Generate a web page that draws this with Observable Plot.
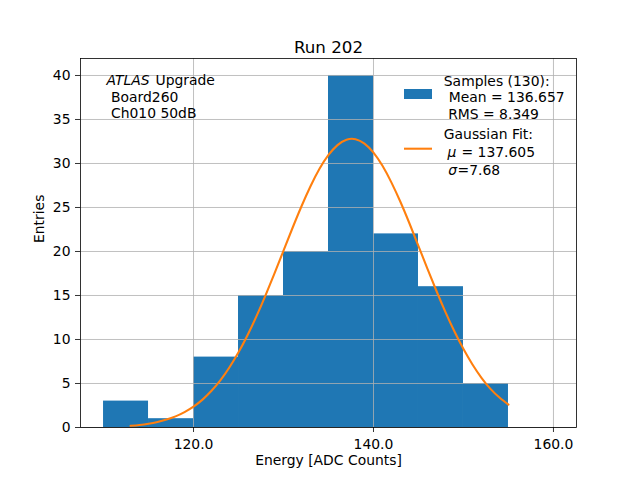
<!DOCTYPE html>
<html>
<head>
<meta charset="utf-8">
<script src="https://cdn.jsdelivr.net/npm/d3@7"></script>
<script src="https://cdn.jsdelivr.net/npm/@observablehq/plot@0.6"></script>
<style>
  html, body { margin: 0; padding: 0; background: white; }
</style>
</head>
<body>
<div id="chart"></div>
<script>
// Histogram bins (lower edges), bin width and counts
const binLow = [110, 115, 120, 125, 130, 135, 140, 145, 150];
const binWidth = 5;
const counts = [3, 1, 8, 15, 20, 40, 22, 16, 5];

// Gaussian fit curve
const fitX = [113,114,115,116,117,118,119,120,121,122,123,124,125,126,127,128,129,130,131,132,133,134,135,136,137,138,139,140,141,142,143,144,145,146,147,148,149,150,151,152,153,154,155];
const fitY = [0.19,0.29,0.43,0.63,0.90,1.26,1.75,2.37,3.17,4.17,5.38,6.84,8.54,10.48,12.65,15.02,17.52,20.10,22.67,25.14,27.41,29.39,30.97,32.09,32.70,32.76,32.26,31.24,29.74,27.83,25.62,23.18,20.62,18.03,15.51,13.11,10.90,8.91,7.16,5.65,4.39,3.40,2.60];

// Axis ticks
const xTicks = [120, 140, 160];
const yTicks = [0, 5, 10, 15, 20, 25, 30, 35, 40];

const bars = binLow.map((lo, i) => ({x1: lo, x2: lo + binWidth, y: counts[i]}));
const fit = fitX.map((x, i) => ({x, y: fitY[i]}));

const font = "DejaVu Sans, Liberation Sans, sans-serif";
const fs = 13.9;
const blue = "#1f77b4", orange = "#ff7f0e";

const chart = Plot.plot({
  width: 640,
  height: 480,
  marginLeft: 80,
  marginRight: 64,
  marginTop: 58,
  marginBottom: 53,
  style: {fontFamily: font, fontSize: fs + "px", color: "black", background: "white", overflow: "visible"},
  x: {domain: [107.44, 162.56]},
  y: {domain: [0, 41.93]},
  marks: [
    Plot.rectY(bars, {x1: "x1", x2: "x2", y: "y", fill: blue, inset: 0}),
    Plot.gridX(xTicks, {stroke: "#b0b0b0", strokeOpacity: 1, strokeWidth: 0.8}),
    Plot.gridY(yTicks, {stroke: "#b0b0b0", strokeOpacity: 1, strokeWidth: 0.8}),
    Plot.line(fit, {x: "x", y: "y", stroke: orange, strokeWidth: 2.08, curve: "natural"}),
    Plot.frame({stroke: "black", strokeWidth: 0.8}),
    Plot.axisX({ticks: xTicks, tickFormat: d => d.toFixed(1), tickSize: 5, tickPadding: 7, label: null, fontSize: fs, strokeWidth: 0.8}),
    Plot.axisY({ticks: yTicks, tickSize: 5, tickPadding: 5, label: null, fontSize: fs, strokeWidth: 0.8}),
    // title and axis labels
    Plot.text(["Run 202"], {frameAnchor: "top", dy: -17, text: d => d, fontSize: 16.7}),
    Plot.text(["Energy [ADC Counts]"], {frameAnchor: "bottom", dy: 37.5, text: d => d, fontSize: fs}),
    Plot.text(["Entries"], {frameAnchor: "left", dx: -40.5, text: d => d, rotate: -90, fontSize: fs}),
    // annotation
    Plot.text(["ATLAS"], {frameAnchor: "top-left", dx: 26, dy: 17, text: d => d, textAnchor: "start", fontStyle: "italic", fontSize: fs}),
    Plot.text(["Upgrade"], {frameAnchor: "top-left", dx: 75, dy: 17, text: d => d, textAnchor: "start", fontSize: fs}),
    Plot.text(["Board260"], {frameAnchor: "top-left", dx: 30.5, dy: 33.7, text: d => d, textAnchor: "start", fontSize: fs}),
    Plot.text(["Ch010 50dB"], {frameAnchor: "top-left", dx: 30.5, dy: 49.7, text: d => d, textAnchor: "start", fontSize: fs}),
    // legend texts
    Plot.text(["Samples (130):"], {frameAnchor: "top-left", dx: 363.3, dy: 18, text: d => d, textAnchor: "start", fontSize: fs}),
    Plot.text(["Mean = 136.657"], {frameAnchor: "top-left", dx: 368.3, dy: 33.7, text: d => d, textAnchor: "start", fontSize: fs}),
    Plot.text(["RMS = 8.349"], {frameAnchor: "top-left", dx: 367.7, dy: 50.3, text: d => d, textAnchor: "start", fontSize: fs}),
    Plot.text(["Gaussian Fit:"], {frameAnchor: "top-left", dx: 363.3, dy: 71, text: d => d, textAnchor: "start", fontSize: fs}),
    Plot.text(["μ"], {frameAnchor: "top-left", dx: 367, dy: 88.7, text: d => d, textAnchor: "start", fontStyle: "italic", fontSize: fs}),
    Plot.text(["= 137.605"], {frameAnchor: "top-left", dx: 381, dy: 88.7, text: d => d, textAnchor: "start", fontSize: fs}),
    Plot.text(["σ"], {frameAnchor: "top-left", dx: 367.7, dy: 106.3, text: d => d, textAnchor: "start", fontStyle: "italic", fontSize: fs}),
    Plot.text(["=7.68"], {frameAnchor: "top-left", dx: 377, dy: 106.3, text: d => d, textAnchor: "start", fontSize: fs})
  ]
});

// legend handles
const svg = d3.select(chart);
svg.append("rect").attr("x", 404).attr("y", 89).attr("width", 28).attr("height", 10).attr("fill", blue);
svg.append("line").attr("x1", 404).attr("x2", 432).attr("y1", 148.7).attr("y2", 148.7)
  .attr("stroke", orange).attr("stroke-width", 2.08);

document.getElementById("chart").appendChild(chart);
</script>
</body>
</html>
